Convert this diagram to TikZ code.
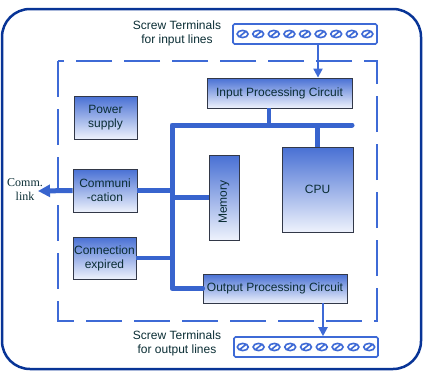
\documentclass[tikz,border=0pt]{standalone}
\usepackage{fontspec}
\usepackage{graphicx}
\setsansfont{Liberation Sans}
\newfontfamily\commfont{Liberation Serif}
\usetikzlibrary{arrows.meta,shadows}

\definecolor{frameblue}{RGB}{8,52,150}
\definecolor{midblue}{RGB}{62,106,214}
\definecolor{busblue}{RGB}{56,100,206}
\definecolor{boxtop}{RGB}{72,112,212}
\definecolor{boxbot}{RGB}{238,242,252}
\definecolor{boxedge}{RGB}{50,56,72}
\definecolor{inktext}{RGB}{10,45,52}

\tikzset{
	unitbox/.style={draw=boxedge, line width=0.8pt, top color=boxtop, bottom color=boxbot,
		inner sep=0pt, align=center, text=inktext,
		font=\sffamily\fontsize{12}{14}\selectfont,
		drop shadow={shadow xshift=1.4pt, shadow yshift=-1.4pt, opacity=0.35, fill=black!60}},
	strip/.style={draw=midblue, line width=1.6pt, fill=white, rounded corners=1.5pt,
		minimum width=144pt, minimum height=20pt, inner sep=0pt},
	screw/.style={draw=midblue, line width=1.6pt},
	bus/.style={draw=busblue, line width=5pt, line cap=round, line join=round},
	branch/.style={draw=busblue, line width=4.5pt},
	feed/.style={draw=midblue, line width=2pt, -{Triangle[length=9pt,width=9pt]}},
	caption/.style={align=center, text=inktext, font=\sffamily\fontsize{12}{13.5}\selectfont}
}

\begin{document}
\begin{tikzpicture}[x=1pt,y=-1pt]
	\useasboundingbox (0,0) rectangle (425,375);
	% outer frame and dashed unit border
	\draw [line width=2.5pt, draw=frameblue, rounded corners=28pt] (2,9) rectangle (421,369);
	\draw [draw=midblue, line width=2pt, dash pattern=on 36pt off 12pt] (58,61) rectangle (377,321);

	% terminal strips
	\node [strip] (instrip) at (305,34) {};
	\node [strip] (outstrip) at (306,347) {};
	\foreach \i in {0,...,8}{
		\path ([xshift={(\i-4)*15.6pt}]instrip.center) coordinate (s);
		\draw [screw] (s) ellipse (5.5pt and 3.6pt) ([shift={(-3pt,-2.4pt)}]s) -- ([shift={(3pt,2.4pt)}]s);
		\path ([xshift={(\i-4)*15.8pt}]outstrip.center) coordinate (s);
		\draw [screw] (s) ellipse (5.5pt and 3.6pt) ([shift={(-3pt,-2.4pt)}]s) -- ([shift={(3pt,2.4pt)}]s);
	}
	\node [caption] (incap) at (177,33.5) {Screw Terminals\\for input lines};
	\node [caption] (outcap) at (177,343.5) {Screw Terminals\\for output lines};

	% functional blocks
	\node [unitbox, minimum width=145pt, minimum height=30pt] (inproc) at (279.5,93) {Input Processing Circuit};
	\node [unitbox, minimum width=144pt, minimum height=29pt] (outproc) at (275,288.5) {Output Processing Circuit};
	\node [unitbox, minimum width=63pt, minimum height=43pt] (power) at (105.5,117.5) {Power\\supply};
	\node [unitbox, minimum width=64pt, minimum height=43pt] (comm) at (105,190.5) {Communi\\-cation};
	\node [unitbox, minimum width=63pt, minimum height=42pt] (connexp) at (104.5,258) {Connection\\expired};
	\node [unitbox, minimum width=30pt, minimum height=85pt] (memory) at (224,197.5) {\raisebox{3pt}{\rotatebox{90}{Memory\hspace{12pt}}}};
	\node [unitbox, minimum width=71pt, minimum height=85pt] (cpu) at (317.5,189.5) {CPU};

	% system bus
	\coordinate (busnw) at (172,125);
	\coordinate (busne) at (352,125);
	\draw [branch] ([xshift=-10.5pt]inproc.south) -- ([xshift=-10.5pt]inproc.south |- busnw);
	\draw [branch] (cpu.north |- busnw) -- (cpu.north);
	\draw [branch] (comm.east) -- (comm.east -| busnw);
	\draw [branch] (connexp.east) -- (connexp.east -| busnw);
	\draw [branch] (busnw |- memory.west) -- (memory.west);
	\draw [bus] (busne) -- (busnw) -- (busnw |- outproc.west) -- (outproc.west);

	% comm link and terminal feeds
	\coordinate (commtip) at (38,191);
	\draw [draw=busblue, line width=5pt, -{Triangle[length=12pt,width=12pt]}] (comm.west) -- (commtip);
	\node [align=center, text=inktext, font=\commfont\fontsize{12}{14}\selectfont] (commlabel) at (25,190) {Comm.\\link};
	\draw [feed] ([xshift=13pt]instrip.south) -- ([xshift=13pt]instrip.south |- inproc.north);
	\draw [feed] ([xshift=48pt]outproc.south) -- ([xshift=48pt]outproc.south |- outstrip.north);
\end{tikzpicture}
\end{document}
